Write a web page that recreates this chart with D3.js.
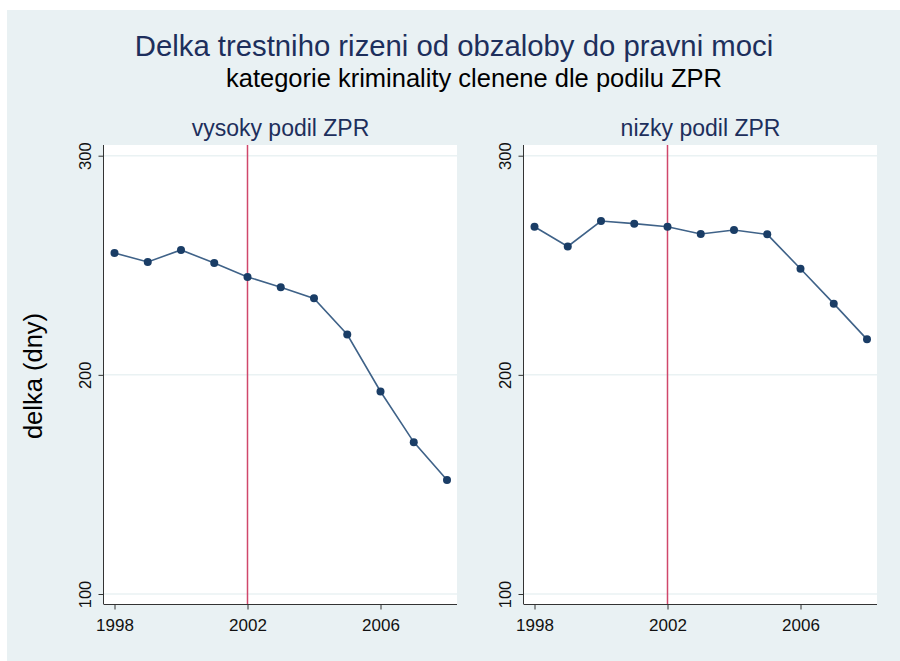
<!DOCTYPE html>
<html>
<head>
<meta charset="utf-8">
<script src="https://cdn.jsdelivr.net/npm/d3@7"></script>
<style>
  body { margin: 0; background: #ffffff; }
  svg { display: block; }
  text { font-family: "Liberation Sans", Arial, sans-serif; }
</style>
</head>
<body>
<svg id="chart" width="900" height="661"></svg>
<script>
const years = [1998, 1999, 2000, 2001, 2002, 2003, 2004, 2005, 2006, 2007, 2008];
const vysoky = [255.6, 251.5, 257.0, 251.0, 244.7, 240.0, 234.9, 218.4, 192.4, 169.3, 152.0];
const nizky = [267.6, 258.6, 270.2, 269.0, 267.6, 264.3, 266.1, 264.1, 248.4, 232.5, 216.2];
const panelTitles = ["vysoky podil ZPR", "nizky podil ZPR"];
const yTicks = [100, 200, 300];
const xTicks = [1998, 2002, 2006];
const cutYear = 2002;
const title = "Delka trestniho rizeni od obzaloby do pravni moci";
const subtitle = "kategorie kriminality clenene dle podilu ZPR";
const yLabel = "delka (dny)";

const svg = d3.select("#chart");
svg.append("rect").attr("x", 7).attr("y", 10).attr("width", 893).attr("height", 651).attr("fill", "#e9f1f3");

svg.append("text").attr("x", 454).attr("y", 56).attr("text-anchor", "middle")
  .attr("font-size", 29.3).attr("fill", "#1d2f5c").text(title);
svg.append("text").attr("x", 474).attr("y", 87).attr("text-anchor", "middle")
  .attr("font-size", 25.5).attr("fill", "#000").text(subtitle);

svg.append("text").attr("transform", "translate(42,376) rotate(-90)").attr("text-anchor", "middle")
  .attr("font-size", 25.5).attr("fill", "#000").text(yLabel);

const panels = [
  { left: 104, right: 457, data: vysoky, title: panelTitles[0] },
  { left: 524, right: 877, data: nizky, title: panelTitles[1] }
];
const plotTop = 145, plotBottom = 604;

const y = d3.scaleLinear().domain([100, 300]).range([594, 155.7]);

panels.forEach(p => {
  const x = d3.scaleLinear().domain([1998, 2008]).range([p.left + 10.5, p.left + 10.5 + 332.5]);
  const g = svg.append("g");
  g.append("rect").attr("x", p.left).attr("y", plotTop).attr("width", p.right - p.left).attr("height", plotBottom - plotTop).attr("fill", "#fff");

  g.selectAll(".grid").data(yTicks).join("line")
    .attr("x1", p.left).attr("x2", p.right)
    .attr("y1", d => y(d)).attr("y2", d => y(d))
    .attr("stroke", "#eaf2f3").attr("stroke-width", 1.5);

  g.append("line").attr("x1", x(cutYear)).attr("x2", x(cutYear)).attr("y1", plotTop).attr("y2", plotBottom)
    .attr("stroke", "#d0476b").attr("stroke-width", 1.5);

  const yAxis = d3.axisLeft(y).tickValues(yTicks).tickSize(5).tickPadding(4);
  const ya = g.append("g").attr("transform", `translate(${p.left - 0.5},0)`).call(yAxis);
  ya.select(".domain").attr("d", `M0,${plotTop}V${plotBottom}`).attr("stroke", "#333");
  ya.selectAll(".tick line").attr("stroke", "#333");
  ya.selectAll(".tick text")
    .attr("font-size", 16.5).attr("fill", "#111")
    .attr("transform", "translate(-13,0) rotate(-90)")
    .attr("x", 0).attr("dy", "0").attr("text-anchor", "middle");

  const xAxis = d3.axisBottom(x).tickValues(xTicks).tickFormat(d3.format("d")).tickSize(5).tickPadding(9);
  const xa = g.append("g").attr("transform", `translate(0,${plotBottom + 0.5})`).call(xAxis);
  xa.select(".domain").attr("d", `M${p.left - 0.5},0H${p.right}`).attr("stroke", "#333");
  xa.selectAll(".tick line").attr("stroke", "#333");
  xa.selectAll(".tick text").attr("font-size", 17).attr("fill", "#111");

  const line = d3.line().x((d, i) => x(years[i])).y(d => y(d));
  g.append("path").datum(p.data).attr("d", line).attr("fill", "none")
    .attr("stroke", "#3f6288").attr("stroke-width", 1.6);
  g.selectAll(".pt").data(p.data).join("circle")
    .attr("cx", (d, i) => x(years[i])).attr("cy", d => y(d)).attr("r", 4)
    .attr("fill", "#1a3d66");

  svg.append("text").attr("x", (p.left + p.right) / 2).attr("y", 136).attr("text-anchor", "middle")
    .attr("font-size", 23).attr("fill", "#1d2f5c").text(p.title);
});
</script>
</body>
</html>
